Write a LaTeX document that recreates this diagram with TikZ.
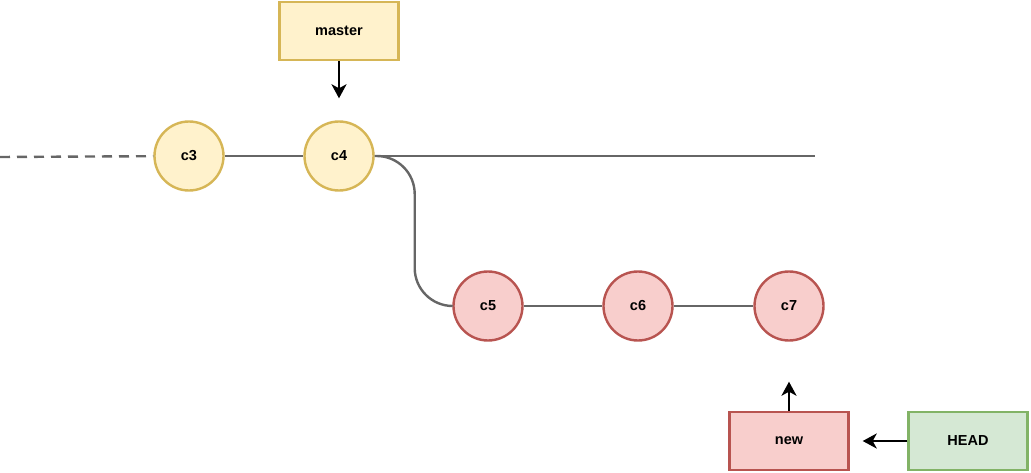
\documentclass[tikz,border=0pt]{standalone}
\usepackage{fontspec}
\setmainfont{Liberation Sans}
\usetikzlibrary{arrows.meta}

\definecolor{yelfill}{HTML}{FFF2CC}
\definecolor{yeldraw}{HTML}{D6B656}
\definecolor{redfill}{HTML}{F8CECC}
\definecolor{reddraw}{HTML}{B85450}
\definecolor{grnfill}{HTML}{D5E8D4}
\definecolor{grndraw}{HTML}{82B366}
\definecolor{edgegray}{HTML}{666666}

\tikzset{
    commit/.style={circle, minimum size=69pt, inner sep=0pt, line width=2.4pt,
        font=\fontsize{14.5}{16}\selectfont\bfseries},
    branch/.style={rectangle, minimum width=119pt, minimum height=58pt, inner sep=0pt,
        line width=2.4pt, font=\fontsize{14.5}{16}\selectfont\bfseries},
    histline/.style={draw=edgegray, line width=2.4pt},
    pointer/.style={draw=black, line width=2.4pt, -{Stealth[length=14pt,width=15pt,inset=4pt]}},
}

\begin{document}
\begin{tikzpicture}[x=1pt, y=-1pt]
    % рамка картинки
    \useasboundingbox (0,0) rectangle (1031,473);

    % коммиты
    \node[commit, fill=yelfill, draw=yeldraw] (c3) at (189,156) {c3};
    \node[commit, fill=yelfill, draw=yeldraw] (c4) at (339,156) {c4};
    \node[commit, fill=redfill, draw=reddraw] (c5) at (488,306) {c5};
    \node[commit, fill=redfill, draw=reddraw] (c6) at (638,306) {c6};
    \node[commit, fill=redfill, draw=reddraw] (c7) at (789,306) {c7};

    % ветки
    \node[branch, fill=yelfill, draw=yeldraw] (master) at (339,31) {master};
    \node[branch, fill=redfill, draw=reddraw] (new) at (789,441) {new};
    \node[branch, fill=grnfill, draw=grndraw] (head) at (968,441) {HEAD};

    % концы линий
    \coordinate (past) at (0,157);
    \coordinate (tip) at (815,156);

    % история
    \draw[histline, dash pattern=on 10pt off 7pt] (past) -- (c3);
    \draw[histline] (c3) -- (c4);
    \draw[histline] (c4.east) -- (tip);
    \draw[histline, rounded corners=38pt] (c4.east) -- ([xshift=40pt]c4.east) |- (c5.west);
    \draw[histline] (c5) -- (c6);
    \draw[histline] (c6) -- (c7);

    % указатели
    \draw[pointer, shorten >=22pt] (master.south) -- (c4.north);
    \draw[pointer, shorten >=40pt] (new.north) -- (c7.south);
    \draw[pointer, shorten >=13pt] (head.west) -- (new.east);
\end{tikzpicture}
\end{document}
